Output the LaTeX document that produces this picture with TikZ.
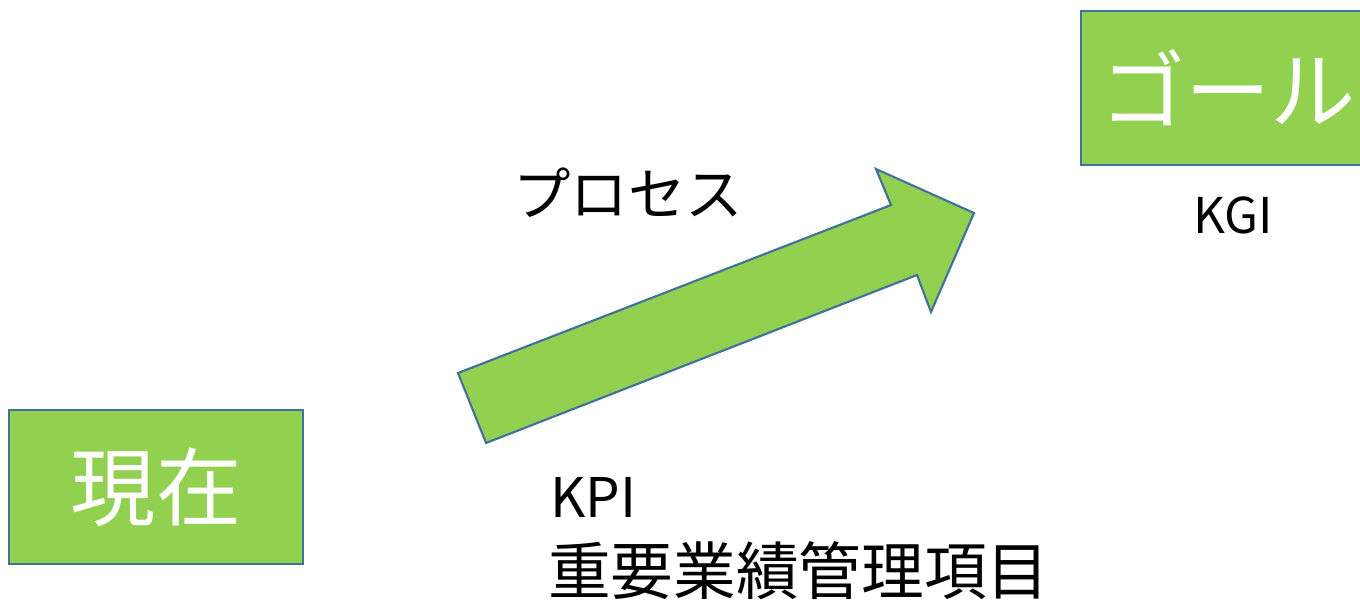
\documentclass[tikz,border=0pt]{standalone}
\usepackage{fontspec}
\setmainfont{Noto Sans CJK JP}
\definecolor{boxgreen}{HTML}{92D050}
\definecolor{edgeblue}{HTML}{41719C}
\begin{document}
\begin{tikzpicture}[x=0.75pt,y=-0.75pt,
  greenbox/.style={draw=edgeblue,line width=1.6pt,fill=boxgreen,minimum width=220.5pt,minimum height=115.5pt,inner sep=0pt,text=white,font=\fontsize{64}{70}\selectfont},
  label/.style={inner sep=0pt,text=black}]
\useasboundingbox (0,0) rectangle (1360,601);
\begin{scope}
\clip (0,0) rectangle (1360,601);
\node[greenbox] (now) at (156,487) {現在};
\node[greenbox] (goal) at (1228,88) {ゴール};
\end{scope}
\draw[draw=edgeblue,line width=1.6pt,fill=boxgreen,line join=miter]
  (458,373) coordinate (a1) -- (891,205) -- (876,169) -- (974,213) coordinate (tip) -- (931,312) -- (917,275) -- (486,443) -- cycle;
\node[label,font=\fontsize{43}{50}\selectfont] (process) at (628,193) {プロセス};
\node[label,font=\fontsize{37}{44}\selectfont] (kgi) at (1233,215) {KGI};
\node[label,anchor=west,font=\fontsize{41}{48}\selectfont] (kpi) at (550,497) {KPI};
\node[label,anchor=west,font=\fontsize{47}{52}\selectfont] (kpij) at (548,571) {重要業績管理項目};
\end{tikzpicture}
\end{document}
